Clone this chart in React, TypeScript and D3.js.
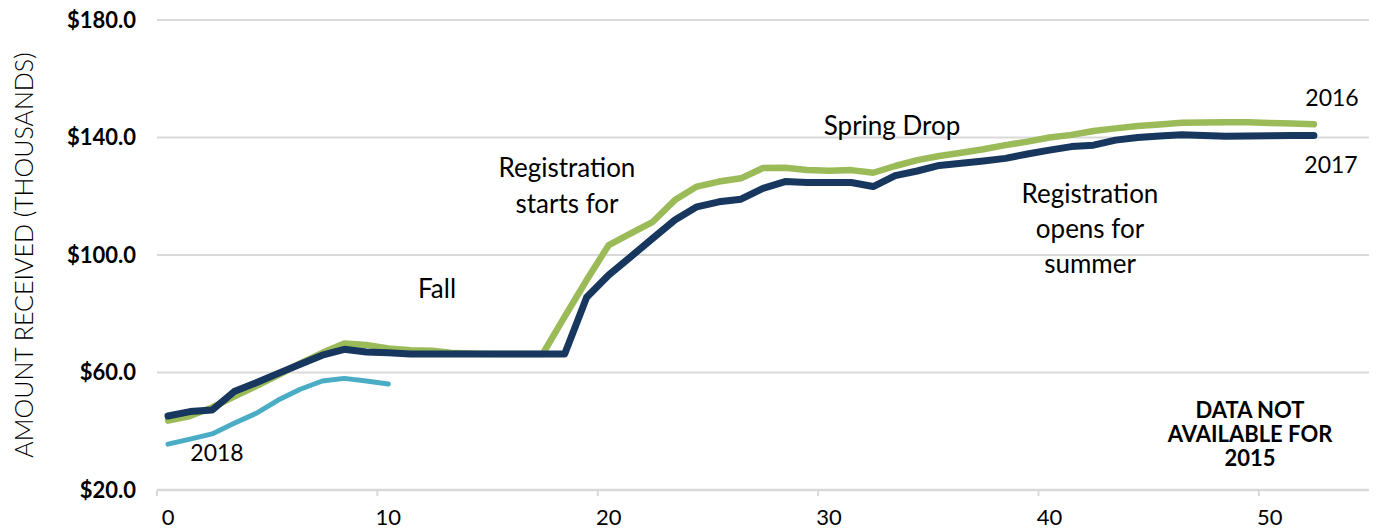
import { useEffect, useRef } from 'react';
import * as d3 from 'd3';

// week index along the x axis (category axis, one slot per week)
const series2016: number[] = [
  43.6, 45.2, 48.1, 51.8, 55.4, 59.1, 63.1, 66.7, 69.9, 69.4,
  68.2, 67.6, 67.4, 66.6, 66.4, 66.3, 66.3, 66.3, 79.0, 91.5,
  103.4, 107.4, 111.3, 118.7, 123.3, 125.0, 126.1, 129.6, 129.7, 128.9,
  128.7, 128.9, 128.0, 130.3, 132.3, 133.7, 134.8, 136.0, 137.4, 138.6,
  140.0, 140.9, 142.2, 143.1, 143.9, 144.4, 145.0, 145.1, 145.2, 145.2,
  144.9, 144.8, 144.5,
];

const series2017: number[] = [
  45.2, 46.7, 47.2, 53.5, 56.5, 59.7, 62.8, 65.9, 67.9, 67.0,
  66.7, 66.3, 66.3, 66.3, 66.3, 66.3, 66.3, 66.3, 66.3, 85.6,
  93.2, 99.4, 105.7, 111.9, 116.4, 118.1, 119.0, 122.7, 125.0, 124.7,
  124.7, 124.7, 123.3, 127.0, 128.6, 130.5, 131.2, 132.0, 132.9, 134.4,
  135.7, 136.9, 137.4, 139.1, 140.0, 140.5, 140.9, 140.7, 140.4, 140.5,
  140.6, 140.7, 140.7,
];

const series2018: number[] = [
  35.6, 37.3, 39.1, 42.7, 46.1, 50.6, 54.3, 57.1, 58.0, 57.1, 56.1,
];

const yTicks = [20, 60, 100, 140, 180];
const xTickLabels = [0, 10, 20, 30, 40, 50];

const seriesList = [
  { id: '2016', values: series2016, color: '#9bbb59', width: 6.5 },
  { id: '2018', values: series2018, color: '#4bacc6', width: 5 },
  { id: '2017', values: series2017, color: '#17375e', width: 7 },
];

export default function App() {
  const svgRef = useRef<SVGSVGElement>(null);

  useEffect(() => {
    if (!svgRef.current) return;
    const width = 1377;
    const height = 531;

    d3.select(svgRef.current).selectAll('*').remove();
    const svg = d3.select(svgRef.current)
      .attr('width', width)
      .attr('height', height);

    const x = d3.scaleLinear().domain([-0.5, 54.5]).range([157, 1369]);
    const y = d3.scaleLinear().domain([20, 180]).range([490, 20]);

    // gridlines
    svg.append('g')
      .selectAll('line')
      .data(yTicks.slice(1))
      .join('line')
      .attr('x1', x(-0.5))
      .attr('x2', x(54.5))
      .attr('y1', d => y(d))
      .attr('y2', d => y(d))
      .attr('stroke', '#d9d9d9')
      .attr('stroke-width', 2);

    // x axis baseline + boundary ticks
    svg.append('line')
      .attr('x1', x(-0.5))
      .attr('x2', x(54.5))
      .attr('y1', y(20))
      .attr('y2', y(20))
      .attr('stroke', '#d9d9d9')
      .attr('stroke-width', 2.5);

    svg.append('g')
      .selectAll('line')
      .data(xTickLabels.map(d => d - 0.5))
      .join('line')
      .attr('x1', d => x(d))
      .attr('x2', d => x(d))
      .attr('y1', y(20))
      .attr('y2', y(20) + 6)
      .attr('stroke', '#d9d9d9')
      .attr('stroke-width', 2);

    // y tick labels
    svg.append('g')
      .selectAll('text')
      .data(yTicks)
      .join('text')
      .attr('x', 136)
      .attr('y', d => y(d))
      .attr('dy', '0.36em')
      .attr('text-anchor', 'end')
      .style('font-family', 'Lato, sans-serif')
      .style('font-weight', '700')
      .style('font-size', '22px')
      .style('fill', '#000')
      .text(d => `$${d.toFixed(1)}`);

    // x tick labels
    svg.append('g')
      .selectAll('text')
      .data(xTickLabels)
      .join('text')
      .attr('x', d => x(d))
      .attr('y', 525)
      .attr('text-anchor', 'middle')
      .style('font-family', 'Lato, sans-serif')
      .style('font-size', '22px')
      .style('fill', '#000')
      .text(d => d.toString());

    // y axis title
    svg.append('text')
      .attr('transform', 'rotate(-90)')
      .attr('x', -255)
      .attr('y', 33)
      .attr('text-anchor', 'middle')
      .style('font-family', 'Lato, sans-serif')
      .style('font-weight', '300')
      .style('font-size', '25px')
      .style('fill', '#000')
      .text('AMOUNT RECEIVED (THOUSANDS)');

    // lines
    const line = d3.line<number>()
      .x((_, i) => x(i))
      .y(d => y(d));

    seriesList.forEach(s => {
      svg.append('path')
        .datum(s.values)
        .attr('fill', 'none')
        .attr('stroke', s.color)
        .attr('stroke-width', s.width)
        .attr('stroke-linejoin', 'round')
        .attr('stroke-linecap', 'round')
        .attr('d', line);
    });

    // annotations
    const note = (lines: string[], cx: number, baseline: number, step: number, size = 26, weight = '400') => {
      const t = svg.append('text')
        .attr('text-anchor', 'middle')
        .style('font-family', 'Lato, sans-serif')
        .style('font-size', `${size}px`)
        .style('font-weight', weight)
        .style('fill', '#000');
      lines.forEach((l, i) => {
        t.append('tspan').attr('x', cx).attr('y', baseline + i * step).text(l);
      });
    };

    note(['Spring Drop'], 892, 135, 0);
    note(['Registration', 'starts for'], 567, 177, 36);
    note(['Fall'], 437, 298, 0);
    note(['Registration', 'opens for', 'summer'], 1090, 203, 35);
    note(['2016'], 1332, 106, 0, 23);
    note(['2017'], 1331, 173, 0, 23);
    note(['2018'], 217, 461, 0, 23);
    note(['DATA NOT', 'AVAILABLE FOR', '2015'], 1250, 418, 24, 22, '700');
  }, []);

  return (
    <svg ref={svgRef} style={{ position: 'absolute', left: 0, top: 0, background: '#fff' }}></svg>
  );
}
